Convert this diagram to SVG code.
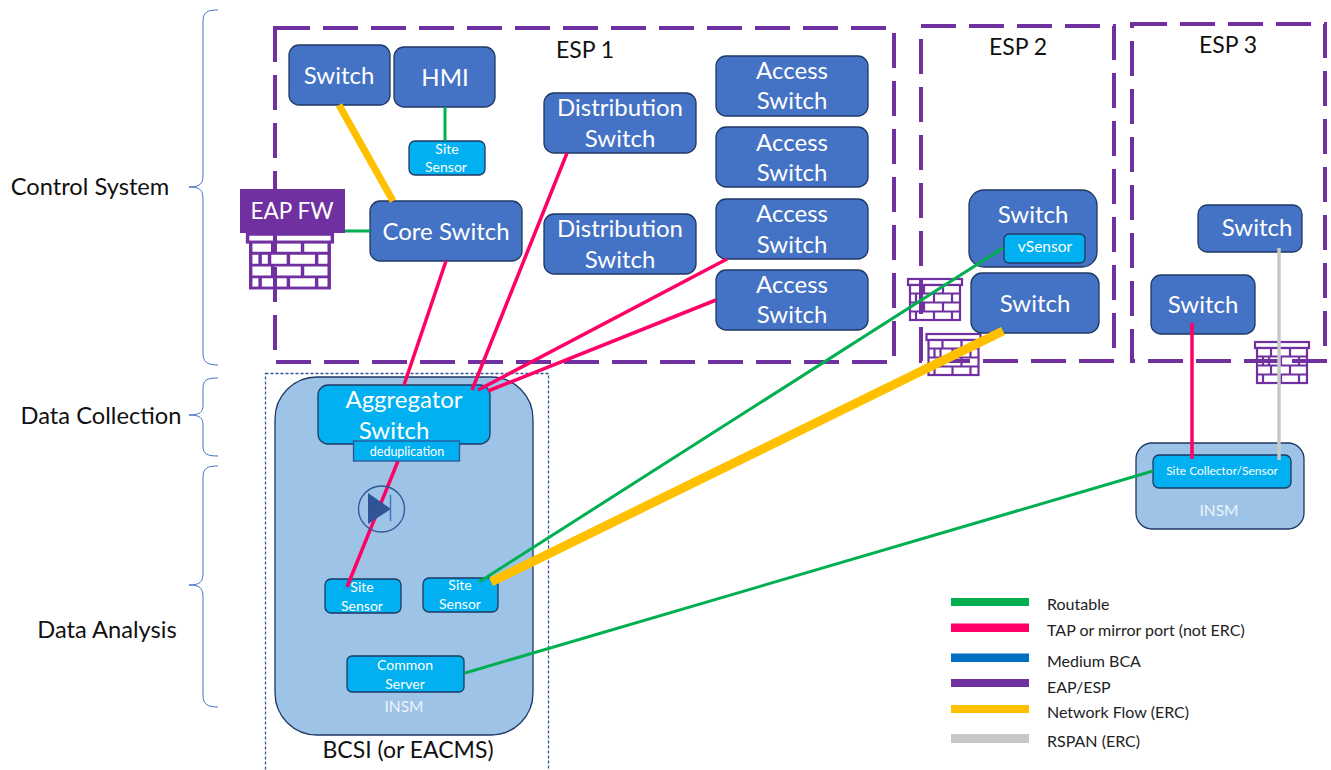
<svg xmlns="http://www.w3.org/2000/svg" xmlns:xlink="http://www.w3.org/1999/xlink" width="1331" height="770" viewBox="0 0 1331 770">
<style>
text{font-family:"Lato","Open Sans","Liberation Sans",sans-serif;text-anchor:middle}
.n{fill:#4472c4;stroke:#1f3864;stroke-width:1.3}
.c{fill:#00b0f0;stroke:#1f3864;stroke-width:1.3}
.t26{font-size:24px;fill:#fff}
.t14{font-size:14px;fill:#fff}
.k{font-size:23.700px;fill:#111}
.e{font-size:23px;fill:#111}
.leg{font-size:16px;fill:#222;text-anchor:start}
.esp{fill:none;stroke:#7030a0;stroke-width:4;stroke-dasharray:35 13}
.brace{fill:none;stroke:#4472c4;stroke-width:1}
.fw{fill:#fff;stroke:#7030a0;stroke-width:2.200}
.fwl{fill:none;stroke:#7030a0;stroke-width:2.200}
.g{stroke:#00b050;stroke-width:3;fill:none}
.p{stroke:#ff0066;stroke-width:3.500;fill:none}
.y{stroke:#ffc000;fill:none}
</style>
<defs>
<g id="fw">
<rect class="fw" x="1" y="1" width="54" height="6"/>
<rect class="fw" x="3" y="7" width="50" height="35"/>
<path class="fwl" d="M3 15.500H53M3 24.500H53M3 33.500H53M17 7V15.500M36 7V15.500M9 15.500V24.500M15 15.500V24.500M27 15.500V24.500M45 15.500V24.500M17 24.500V33.500M36 24.500V33.500M9 33.500V42M27 33.500V42M45 33.500V42"/>
</g>
</defs>
<rect width="1331" height="770" fill="#fff"/>

<g id="braces">
<path class="brace" d="M218 10C207 10 203 12 203 22V175C203 184 200 187 189 187C200 187 203 190 203 199V353C203 362 207 365 218 365"/>
<path class="brace" d="M218 378C207 378 203 380 203 388V405C203 412 200 415 189 415C200 415 203 418 203 425V446C203 454 207 456 218 456"/>
<path class="brace" d="M218 466C207 466 203 468 203 478V573C203 582 200 585 189 585C200 585 203 588 203 597V695C203 704 207 707 218 707"/>
<text class="k" x="90" y="195">Control System</text>
<text class="k" x="101" y="424">Data Collection</text>
<text class="k" x="107" y="638">Data Analysis</text>
</g>

<g id="fw1"><use xlink:href="#fw" href="#fw" transform="translate(246 233) scale(1.57 1.31)"/></g>
<g id="fw2"><use xlink:href="#fw" href="#fw" transform="translate(907 278)"/></g>
<g id="fw3"><use xlink:href="#fw" href="#fw" transform="translate(925.500 333)"/></g>
<g id="fw4"><use xlink:href="#fw" href="#fw" transform="translate(1254 341)"/></g>

<g id="esp1"><rect class="esp" x="275" y="28" width="619" height="334"/><text class="e" x="585" y="58">ESP 1</text></g>
<g id="esp2"><rect class="esp" x="921" y="26" width="193" height="335"/><text class="e" x="1018" y="55">ESP 2</text></g>
<g id="esp3"><rect class="esp" x="1132" y="24" width="193" height="337"/><text class="e" x="1228" y="53">ESP 3</text></g>

<g id="bcsi">
<rect x="265.500" y="373.500" width="283" height="400" fill="none" stroke="#2f5597" stroke-width="1.300" stroke-dasharray="3 2"/>
<rect x="275" y="377" width="258" height="358" rx="42" fill="#9dc3e6" stroke="#1f3864" stroke-width="1.300"/>
<text x="404" y="712" font-size="15.500" fill="#eef4fb">INSM</text>
<text x="408" y="758" font-size="23" fill="#111">BCSI (or EACMS)</text>
</g>
<g id="insm3">
<rect x="1136" y="443" width="168" height="86" rx="16" fill="#9dc3e6" stroke="#1f3864" stroke-width="1.300"/>
<text x="1219" y="516" font-size="15.500" fill="#eef4fb">INSM</text>
</g>

<g id="eapfw"><rect x="240" y="189" width="105" height="44" fill="#7030a0"/><text x="292" y="219" font-size="22.500" fill="#fff">EAP FW</text></g>

<g id="sw1"><rect class="n" x="289" y="45" width="101" height="60" rx="10"/><text class="t26" x="339" y="84">Switch</text></g>
<g id="hmi"><rect class="n" x="394" y="47" width="101" height="60" rx="10"/><text class="t26" x="445" y="86">HMI</text></g>
<g id="core"><rect class="n" x="370" y="201" width="152" height="60" rx="10"/><text class="t26" x="446" y="240">Core Switch</text></g>
<g id="d1"><rect class="n" x="544" y="93" width="152" height="60" rx="10"/><text class="t26" x="620" y="116">Distribution</text><text class="t26" x="620" y="147">Switch</text></g>
<g id="d2"><rect class="n" x="544" y="214" width="152" height="60" rx="10"/><text class="t26" x="620" y="237">Distribution</text><text class="t26" x="620" y="268">Switch</text></g>
<g id="a1"><rect class="n" x="716" y="56" width="152" height="60" rx="10"/><text class="t26" x="792" y="79">Access</text><text class="t26" x="792" y="109">Switch</text></g>
<g id="a2"><rect class="n" x="716" y="127" width="152" height="60" rx="10"/><text class="t26" x="792" y="151">Access</text><text class="t26" x="792" y="181">Switch</text></g>
<g id="a3"><rect class="n" x="716" y="199" width="152" height="60" rx="10"/><text class="t26" x="792" y="222">Access</text><text class="t26" x="792" y="253">Switch</text></g>
<g id="a4"><rect class="n" x="716" y="270" width="152" height="60" rx="10"/><text class="t26" x="792" y="293">Access</text><text class="t26" x="792" y="323">Switch</text></g>
<g id="sw2"><rect class="n" x="969" y="190" width="128" height="77" rx="15"/><text class="t26" x="1033" y="223">Switch</text></g>
<g id="sw3"><rect class="n" x="971" y="273" width="128" height="60" rx="11"/><text class="t26" x="1035" y="312">Switch</text></g>
<g id="sw4"><rect class="n" x="1198" y="205" width="104" height="47" rx="9"/><text class="t26" x="1257" y="236">Switch</text></g>
<g id="sw5"><rect class="n" x="1151" y="275" width="104" height="59" rx="10"/><text class="t26" x="1203" y="313">Switch</text></g>

<g id="aggr"><rect class="c" x="318" y="385" width="172" height="59" rx="10"/><text x="404" y="408" font-size="24" fill="#fff">Aggregator</text><text x="394" y="439" font-size="24" fill="#fff">Switch</text></g>
<g id="sensorHmi"><rect class="c" x="409" y="141" width="76" height="34" rx="6"/><text class="t14" x="447" y="154">Site</text><text class="t14" x="446" y="172">Sensor</text></g>
<g id="vsensor"><rect class="c" x="1004" y="234" width="81" height="29" rx="5"/><text x="1045" y="252" font-size="15.500" fill="#fff">vSensor</text></g>
<g id="sensor1"><rect class="c" x="325" y="579" width="76" height="34" rx="6"/><text class="t14" x="362" y="592">Site</text><text class="t14" x="362" y="611">Sensor</text></g>
<g id="sensor2"><rect class="c" x="423" y="578" width="75" height="34" rx="6"/><text class="t14" x="460" y="590">Site</text><text class="t14" x="460" y="609">Sensor</text></g>
<g id="common"><rect class="c" x="347" y="656" width="117" height="36" rx="5"/><text class="t14" x="405" y="670">Common</text><text class="t14" x="405" y="689">Server</text></g>
<g id="collector"><rect class="c" x="1153" y="455" width="138" height="33" rx="6"/><text x="1222" y="475" font-size="12" fill="#fff">Site Collector/Sensor</text></g>

<g id="connectors">
<path class="y" stroke-width="7" d="M339 105L393 201"/>
<path class="g" d="M445 107V141M345 231H370M1003 248L479 582M465 673L1153 471"/>
<path class="p" d="M446 261L404 385M567 153L472 390M727 259L478 390M716 300L488 391M398 461L347 587M1192 323V459"/>
<path d="M1279 248V460" stroke="#c8c8c8" stroke-width="3.500" fill="none"/>
<path class="y" stroke-width="9" d="M1003 331L491 582"/>
</g>

<g id="dedup"><rect x="353.500" y="441" width="106" height="20" fill="#00b0f0" stroke="#2f5597" stroke-width="1.300"/><text x="407" y="456" font-size="12.500" fill="#fff">deduplication</text></g>
<g id="diode">
<circle cx="381.500" cy="509" r="23" fill="none" stroke="#2f5597" stroke-width="1.300"/>
<path d="M368 493L391 509L368 524Z" fill="#2f5597"/>
<path d="M390.500 495V521" stroke="#4472c4" stroke-width="1.500"/>
</g>

<g id="legend">
<rect x="951" y="598" width="78" height="8" fill="#00b050"/><text class="leg" x="1047" y="610">Routable</text>
<rect x="951" y="623.500" width="78" height="8.500" fill="#ff0066"/><text class="leg" x="1047" y="636">TAP or mirror port (not ERC)</text>
<rect x="951" y="653.500" width="78" height="8.500" fill="#0070c0"/><text class="leg" x="1047" y="667">Medium BCA</text>
<rect x="951" y="679" width="78" height="8" fill="#7030a0"/><text class="leg" x="1047" y="693">EAP/ESP</text>
<rect x="951" y="705" width="78" height="8" fill="#ffc000"/><text class="leg" x="1047" y="718">Network Flow (ERC)</text>
<rect x="951" y="734" width="78" height="9" fill="#c8c8c8"/><text class="leg" x="1047" y="747">RSPAN (ERC)</text>
</g>
</svg>
